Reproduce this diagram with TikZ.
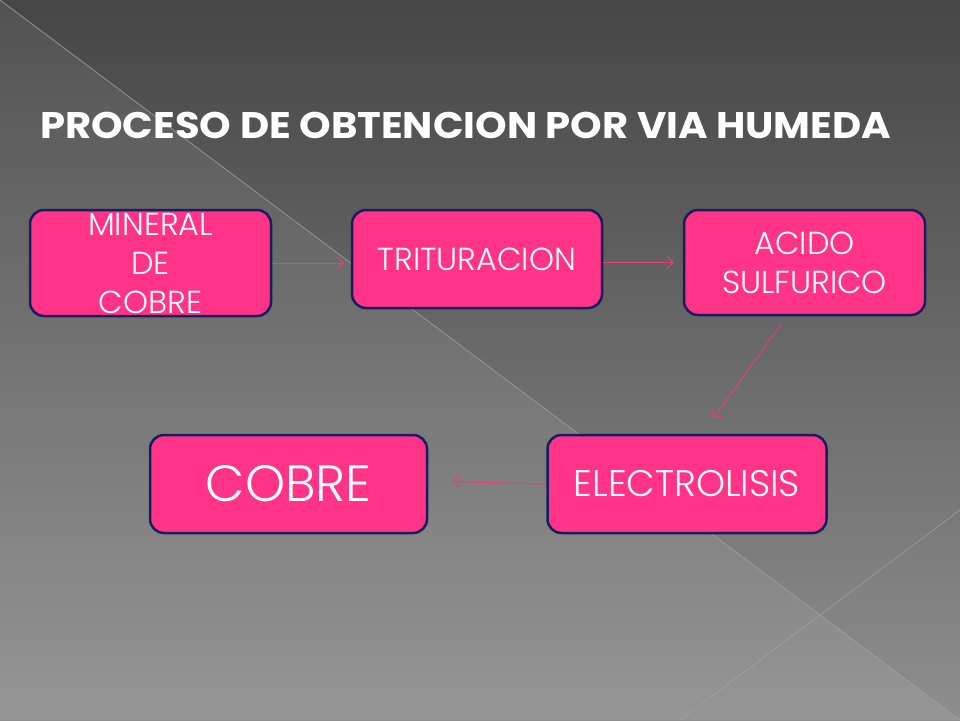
\documentclass[tikz,border=0pt]{standalone}
\usepackage{fontspec}
\setmainfont{Poppins}
\newfontfamily\boxfont{Poppins Light}
\newfontfamily\titlefont{Poppins}
\usetikzlibrary{arrows.meta,calc}
\definecolor{bgtop}{RGB}{70,70,70}
\definecolor{bgbot}{RGB}{142,142,142}
\definecolor{pinkfill}{RGB}{255,51,136}
\definecolor{navyline}{RGB}{22,30,92}
\definecolor{arrpink}{RGB}{226,62,128}
\definecolor{diagline}{RGB}{160,160,160}
\tikzset{
  stepbox/.style={draw=navyline, line width=2.5pt, fill=pinkfill, rounded corners=14pt,
    inner sep=0pt, text=white, align=center},
  smalltext/.style={font=\boxfont\fontsize{31.8}{39}\selectfont},
  flowarrow/.style={draw=arrpink, line width=1pt, -{Straight Barb[length=6pt,width=12pt]}},
  bgline/.style={draw=diagline, line width=0.8pt, opacity=0.8}
}
\begin{document}
\begin{tikzpicture}[x=1pt,y=-1pt]
\useasboundingbox (0,0) rectangle (960,720);
% background
\shade[top color=bgtop, bottom color=bgbot] (0,0) rectangle (960,720);
\fill[white, opacity=0.07] (0,0) -- (960,720) -- (0,720) -- cycle;
\draw[bgline] (0,0) -- (960,720);
\draw[bgline] (680,720) -- (960,510);
% title
\node[anchor=base west, inner sep=0pt, text=white, font=\titlefont\bfseries\fontsize{37}{40}\selectfont] (title) at (40,138) {\scalebox{1.085}[1]{PROCESO DE OBTENCION POR VIA HUMEDA}};
% boxes
\node[stepbox, smalltext, minimum width=241pt, minimum height=106pt] (mineral) at (150.5,263) {MINERAL\\DE\\COBRE};
\node[stepbox, smalltext, minimum width=250pt, minimum height=98pt] (tritu) at (477,259) {TRITURACION};
\node[stepbox, smalltext, minimum width=241pt, minimum height=105pt] (acido) at (804.5,262.5) {ACIDO\\SULFURICO};
\node[stepbox, font=\boxfont\fontsize{51}{55}\selectfont, minimum width=277pt, minimum height=98pt] (cobre) at (288.5,484) {COBRE};
\node[stepbox, font=\boxfont\fontsize{37}{40}\selectfont, minimum width=279pt, minimum height=98pt] (electro) at (687,484) {ELECTROLISIS};
% connectors
\draw[flowarrow, shorten >=7pt] (mineral.east) -- (mineral.east -| tritu.west);
\draw[flowarrow, shorten >=9pt] (acido.west -| tritu.east) -- (acido.west);
\draw[flowarrow, shorten <=10pt, shorten >=19pt] ($(acido.south)+(-17.5,0)$) -- ($(electro.north)+(15,0)$);
\draw[flowarrow, shorten >=24pt] (electro.west) -- ($(cobre.east)+(0,-3)$);
\end{tikzpicture}
\end{document}
